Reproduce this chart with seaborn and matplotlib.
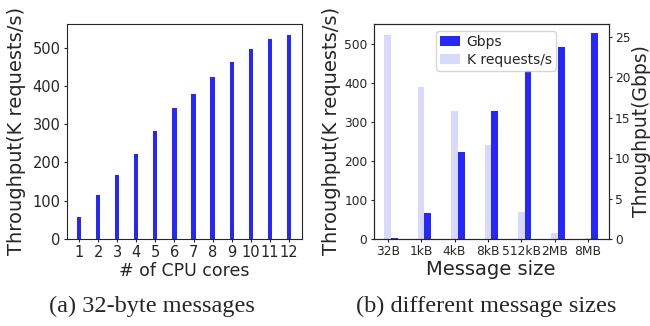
import matplotlib
matplotlib.use("Agg")
import matplotlib.pyplot as plt
import seaborn as sns
import pandas as pd

sns.set_style("ticks")
plt.rcParams['font.family'] = ['DejaVu Sans']

# (a) throughput vs number of cores, 32-byte messages
cores = [1, 2, 3, 4, 5, 6, 7, 8, 9, 10, 11, 12]
krps_cores = [58, 116, 168, 223, 283, 343, 379, 423, 463, 497, 523, 533]

# (b) different message sizes
sizes = ['32B', '1kB', '4kB', '8kB', '512kB', '2MB', '8MB']
krps_sizes = [524, 390, 329, 242, 70, 15, 2.5]
gbps_sizes = [0.17, 3.2, 10.8, 15.8, 20.8, 23.7, 25.5]

dark = '#2626ff'
light = '#d9d9fc'

fig = plt.figure(figsize=(6.5, 3.26), dpi=100)
ax1 = fig.add_axes([0.103, 0.267, 0.3615, 0.66])
ax2 = fig.add_axes([0.575, 0.267, 0.3615, 0.66])

# left panel
df_a = pd.DataFrame({'cores': cores, 'krps': krps_cores})
sns.barplot(data=df_a, x='cores', y='krps', native_scale=True, width=0.22,
            color=dark, saturation=1, linewidth=0, ax=ax1)
ax1.set_xlim(0.37, 12.68)
ax1.set_ylim(0, 562)
ax1.set_xticks(cores)
ax1.set_yticks([0, 100, 200, 300, 400, 500])
ax1.tick_params(labelsize=10.5, length=2.5, pad=2)
ax1.set_xlabel('# of CPU cores', fontsize=12.5, labelpad=1)
ax1.set_ylabel('Throughput(K requests/s)', fontsize=14)
ax1.yaxis.set_label_coords(-0.175, 0.5)

# right panel
pos = list(range(len(sizes)))
df_b = pd.DataFrame({'pos': pos, 'size': sizes, 'krps': krps_sizes,
                     'gbps': gbps_sizes})
df_b['pos_g'] = df_b['pos'] + 0.2
sns.barplot(data=df_b, x='pos', y='krps', native_scale=True, width=0.2,
            color=light, saturation=1, linewidth=0, ax=ax2,
            label='K requests/s')
ax2b = ax2.twinx()
sns.barplot(data=df_b, x='pos_g', y='gbps', native_scale=True, width=0.2,
            color=dark, saturation=1, linewidth=0, ax=ax2b, label='Gbps')
ax2.set_xlim(-0.42, 6.62)
ax2.set_ylim(0, 553)
ax2b.set_ylim(0, 26.6)
ax2.set_xticks(pos)
ax2.set_xticklabels(sizes)
ax2.set_yticks([0, 100, 200, 300, 400, 500])
ax2b.set_yticks([0, 5, 10, 15, 20, 25])
ax2.tick_params(labelsize=8.8, length=2.5, pad=2)
ax2b.tick_params(labelsize=8.8, length=2.5, pad=2)
ax2.set_xlabel('Message size', fontsize=14, labelpad=1)
ax2.set_ylabel('Throughput(K requests/s)', fontsize=14)
ax2.yaxis.set_label_coords(-0.14, 0.5)
ax2b.set_ylabel('Throughput(Gbps)', fontsize=13.5)
ax2b.yaxis.set_label_coords(1.098, 0.5)

h1, l1 = ax2.get_legend_handles_labels()
h2, l2 = ax2b.get_legend_handles_labels()
if ax2.get_legend() is not None:
    ax2.get_legend().remove()
ax2b.legend(h2 + h1, l2 + l1, loc='upper center', fontsize=10,
            handlelength=1.4, handletextpad=0.5, borderpad=0.3,
            labelspacing=0.3, bbox_to_anchor=(0.52, 1.0))

fig.text(152 / 650, 0.061, '(a) 32-byte messages', ha='center', va='center',
         family='Liberation Serif', fontsize=17.5)
fig.text(486 / 650, 0.061, '(b) different message sizes', ha='center',
         va='center', family='Liberation Serif', fontsize=17.5)

fig.savefig('out.png', dpi=100)
